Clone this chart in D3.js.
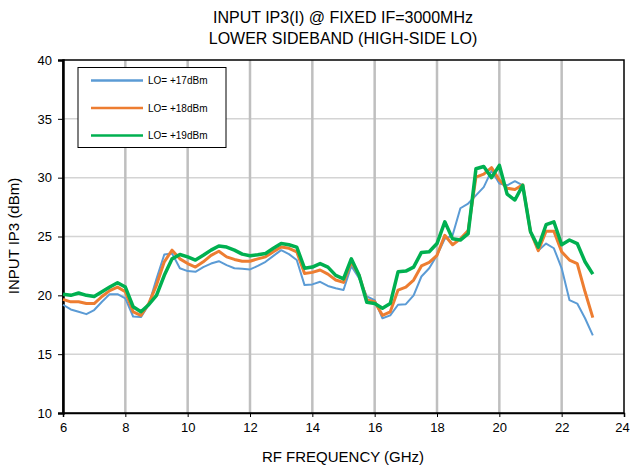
<!DOCTYPE html>
<html><head><meta charset="utf-8">
<script src="https://cdn.jsdelivr.net/npm/d3@7"></script>
<style>body{margin:0;background:#fff;}svg{display:block;font-family:"Liberation Sans",Arial,sans-serif;}</style>
</head><body><svg id="c" width="631" height="466"></svg>
<script>
const freqs = d3.range(6, 23.001, 0.25);
const lo17 = [19.2,18.8,18.6,18.4,18.75,19.45,20.1,20.1,19.75,18.2,18.15,19.2,21.4,23.47,23.56,22.3,22.06,22.0,22.4,22.7,22.9,22.57,22.3,22.25,22.2,22.5,22.85,23.35,23.84,23.5,23.0,20.87,20.93,21.15,20.8,20.6,20.45,22.5,21.45,19.9,19.6,18.05,18.3,19.2,19.25,20.0,21.6,22.3,23.4,24.8,25.1,27.4,27.8,28.5,29.2,30.6,29.5,29.35,29.7,29.35,25.4,23.8,24.4,24.0,22.3,19.6,19.3,18.05,16.6];
const lo18 = [19.66,19.45,19.45,19.3,19.3,19.9,20.4,20.7,20.3,18.6,18.3,19.3,20.87,22.85,23.84,23.1,22.7,22.4,22.85,23.4,23.75,23.27,23.05,22.9,22.9,23.1,23.27,23.7,24.1,24.0,23.7,21.86,21.95,22.15,21.8,21.3,21.1,22.85,21.7,19.6,19.45,18.3,18.6,20.45,20.7,21.3,22.5,22.8,23.4,25.1,24.3,24.8,25.5,30.05,30.3,30.85,29.8,29.1,29.0,29.4,25.4,23.8,25.45,25.45,23.7,23.0,22.7,20.3,18.1];
const lo19 = [20.1,20.0,20.2,20.0,19.9,20.3,20.7,21.07,20.7,19.03,18.6,19.2,20.0,21.7,23.1,23.47,23.27,23.0,23.4,23.84,24.2,24.1,23.84,23.5,23.36,23.45,23.56,24.0,24.4,24.3,24.1,22.3,22.4,22.7,22.4,21.7,21.4,23.1,21.7,19.4,19.3,18.9,19.3,22.0,22.06,22.4,23.65,23.7,24.4,26.25,24.8,24.7,25.25,30.76,30.95,30.0,31.05,28.6,28.1,29.35,25.4,24.1,26.0,26.25,24.3,24.7,24.4,22.85,21.8];
const seriesNames = ["LO= +17dBm","LO= +18dBm","LO= +19dBm"];
const seriesColors = ["#5B9BD5","#ED7D31","#00B050"];
const seriesWidths = [2,3,3.5];
const xTicks = [6,8,10,12,14,16,18,20,22,24];
const yTicks = [10,15,20,25,30,35,40];
const titleLines = ["INPUT IP3(I) @ FIXED IF=3000MHz","LOWER SIDEBAND (HIGH-SIDE LO)"];

const svg = d3.select("#c");
const L=63, R=624, T=60, B=413;
const x = d3.scaleLinear().domain([6,24]).range([L,R]);
const y = d3.scaleLinear().domain([10,40]).range([B,T]);

svg.append("g").selectAll("line").data(yTicks.slice(1,-1)).join("line")
  .attr("x1",L).attr("x2",R).attr("y1",d=>y(d)).attr("y2",d=>y(d))
  .attr("stroke","#d4d4d4").attr("stroke-width",1.5);
svg.append("g").selectAll("line").data(xTicks.slice(1,-1)).join("line")
  .attr("y1",T).attr("y2",B).attr("x1",d=>x(d)).attr("x2",d=>x(d))
  .attr("stroke","#bfbfbf").attr("stroke-width",2.5);

svg.append("rect").attr("x",L).attr("y",T).attr("width",R-L).attr("height",B-T)
  .attr("fill","none").attr("stroke","#000").attr("stroke-width",1.5);

const yAxis = d3.axisLeft(y).tickValues(yTicks).tickSize(5).tickPadding(6);
const gy = svg.append("g").attr("transform",`translate(${L},0)`).call(yAxis);
gy.select(".domain").attr("stroke-width",2.5);
gy.selectAll("text").attr("font-size",13).attr("fill","#000").attr("font-family","Liberation Sans, Arial");
const xAxis = d3.axisBottom(x).tickValues(xTicks).tickSize(4).tickPadding(6);
const gx = svg.append("g").attr("transform",`translate(0,${B})`).call(xAxis);
gx.select(".domain").attr("stroke-width",1.5);
gx.selectAll("text").attr("font-size",13).attr("fill","#000").attr("font-family","Liberation Sans, Arial");
gx.selectAll(".tick").filter(d=>d===24).select("text").attr("dx",-2);

const allSeries = [lo17, lo18, lo19];
const line = d3.line().x((d,i)=>x(freqs[i])).y(d=>y(d));
allSeries.forEach((s,k)=>{
  svg.append("path").datum(s).attr("d",line).attr("fill","none")
    .attr("stroke",seriesColors[k]).attr("stroke-width",seriesWidths[k])
    .attr("stroke-linejoin","round");
});

const lg = svg.append("g");
lg.append("rect").attr("x",78).attr("y",67.5).attr("width",148).attr("height",80)
  .attr("fill","#fff").attr("stroke","#000").attr("stroke-width",1);
seriesNames.forEach((n,k)=>{
  const yy = 80.5 + k*27.5;
  lg.append("line").attr("x1",91).attr("x2",143).attr("y1",yy).attr("y2",yy)
    .attr("stroke",seriesColors[k]).attr("stroke-width",2.5);
  lg.append("text").attr("x",148).attr("y",yy+3.5).attr("font-size",10).text(n);
});

svg.selectAll(".title").data(titleLines).join("text").attr("class","title")
  .attr("x",343).attr("y",(d,i)=>23+i*21).attr("text-anchor","middle")
  .attr("font-size",16).text(d=>d);
svg.append("text").attr("x",343).attr("y",462).attr("text-anchor","middle")
  .attr("font-size",15).text("RF FREQUENCY (GHz)");
svg.append("text").attr("transform","translate(19,236) rotate(-90)")
  .attr("text-anchor","middle").attr("font-size",15).text("INPUT IP3 (dBm)");
</script></body></html>
